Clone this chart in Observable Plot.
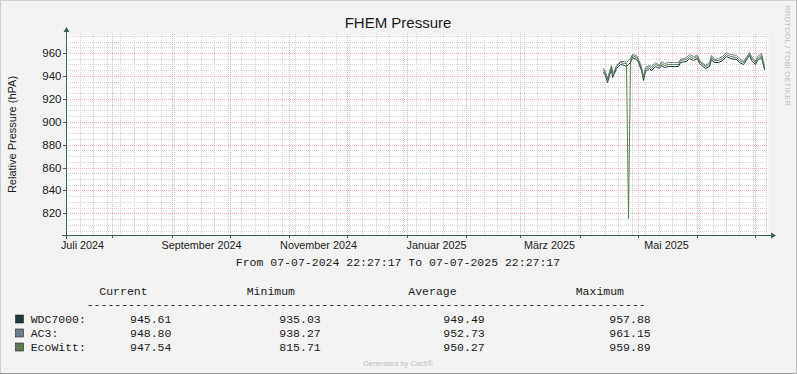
<!DOCTYPE html>
<html><head><meta charset="utf-8">
<script src="https://cdn.jsdelivr.net/npm/d3@7"></script>
<script src="https://cdn.jsdelivr.net/npm/@observablehq/plot@0.6"></script>
<style>
html,body{margin:0;padding:0;background:#F3F3F3;}
#chart{width:797px;height:374px;position:relative;overflow:hidden}
svg{display:block}
</style></head><body><div id="chart"></div>
<script>
// ---- data ----
const dates = ["2025-04-13","2025-04-14","2025-04-15","2025-04-16","2025-04-17","2025-04-18","2025-04-19","2025-04-20","2025-04-22","2025-04-24","2025-04-25","2025-04-26","2025-04-27","2025-04-28","2025-04-30","2025-05-01","2025-05-03","2025-05-04","2025-05-05","2025-05-07","2025-05-08","2025-05-10","2025-05-12","2025-05-13","2025-05-15","2025-05-17","2025-05-20","2025-05-22","2025-05-23","2025-05-26","2025-05-28","2025-05-30","2025-06-01","2025-06-02","2025-06-05","2025-06-07","2025-06-08","2025-06-10","2025-06-12","2025-06-14","2025-06-16","2025-06-18","2025-06-21","2025-06-23","2025-06-25","2025-06-27","2025-06-28","2025-06-29","2025-07-01","2025-07-02","2025-07-04","2025-07-05","2025-07-06"];
const wdc7000 = [943.7,940.8,935.03,940.8,946.6,939.4,942.2,946.6,950.1,949.6,949.0,950.6,952.4,956.2,954.8,951.8,945.2,936.5,944.3,946.6,945.2,948.9,946.6,949.6,947.8,948.9,948.7,948.7,951.8,953.0,955.9,953.9,955.3,951.0,946.6,948.9,954.8,951.8,952.4,953.9,957.5,955.9,954.8,952.4,950.1,955.3,957.88,953.9,950.1,953.9,956.8,949.6,945.61];
const ac3 = [946.9,944.0,938.27,944.1,949.8,942.6,945.4,949.7,953.3,952.8,952.2,953.8,955.6,959.4,958.0,955.0,948.4,939.8,947.5,949.8,948.4,952.1,949.8,952.8,951.0,952.1,951.9,951.9,955.0,956.2,959.1,957.1,958.5,954.2,949.8,952.1,958.0,955.0,955.6,957.1,960.7,959.1,958.0,955.6,953.3,958.5,961.15,957.1,953.3,957.1,960.0,952.8,948.80];
const ecowitt = [945.6,942.7,936.9,942.7,948.5,941.3,944.1,948.5,952.0,951.5,950.9,815.71,954.3,958.1,956.7,953.7,947.1,938.4,946.2,948.5,947.1,950.8,948.5,951.5,949.7,950.8,950.6,950.6,953.7,954.9,957.8,955.8,957.2,952.9,948.5,950.8,956.7,953.7,954.3,955.8,959.4,957.8,956.7,954.3,952.0,957.2,959.89,955.8,952.0,955.8,958.7,951.5,947.54];

const seriesNames = ["WDC7000","AC3","EcoWitt"];
const seriesColors = ["#1E3A3B","#6F7E8D","#5B7F4E"];
const statCurrent = ["945.61","948.80","947.54"];
const statMinimum = ["935.03","938.27","815.71"];
const statAverage = ["949.49","952.73","950.27"];
const statMaximum = ["957.88","961.15","959.89"];

const yTicks = [820,840,860,880,900,920,940,960];
const xTickDates = ["2024-07-16","2024-09-16","2024-11-16","2025-01-16","2025-03-16","2025-05-16"];
const xTickLabels = ["Juli 2024","September 2024","November 2024","Januar 2025","März 2025","Mai 2025"];

const titleText = "FHEM Pressure";
const yLabelText = "Relative Pressure (hPA)";
const rangeText = "From 07-07-2024 22:27:17 To 07-07-2025 22:27:17";
const sideText = "RRDTOOL / TOBI OETIKER";
const footText = "Generated by Cacti®";

// ---- build ----
const W = 797, H = 374, mL = 66, mR = 29, mT = 34, mB = 139;
const xStart = new Date(Date.UTC(2024,6,7,20,27,17));
const xEnd = new Date(Date.UTC(2025,6,7,20,27,17));
const yDomain = [801.1, 976.6];
const axisColor = "#3F5E52";
const minorColor = "#D6D6D6";
const majorColor = "#F0B2B2";

const toRows = (vals, name) => dates.map((d,i)=>({date:new Date(d+"T00:00:00Z"), value:vals[i], name}));
const rows = [toRows(wdc7000,"WDC7000"), toRows(ac3,"AC3"), toRows(ecowitt,"EcoWitt")];

const yMinor = d3.range(805, 976, 5).filter(v => v % 20 !== 0);
const monthLines = d3.utcMonth.range(xStart, xEnd);
const weekLines = d3.utcMonday.range(xStart, xEnd);
const labelDates = xTickDates.map(d => new Date(d+"T00:00:00Z"));
const labelMap = new Map(labelDates.map((d,i)=>[+d, xTickLabels[i]]));

const plot = Plot.plot({
  width: W, height: H,
  marginLeft: mL, marginRight: mR, marginTop: mT, marginBottom: mB,
  x: {type:"utc", domain:[xStart,xEnd], round:true},
  y: {domain: yDomain, round:true},
  style: {fontFamily:"'Liberation Sans', Arial, sans-serif", fontSize:"11px", background:"transparent", color:"#1a1a1a", overflow:"visible"},
  marks: [
    Plot.frame({fill:"#FEFEFE", stroke:null}),
    Plot.ruleY(yMinor, {stroke:minorColor, strokeDasharray:"1,1"}),
    Plot.ruleX(weekLines, {stroke:minorColor, strokeDasharray:"1,1"}),
    Plot.ruleY(yTicks, {stroke:majorColor, strokeDasharray:"1,1"}),
    Plot.ruleX(monthLines, {stroke:majorColor, strokeDasharray:"1,1"}),
    Plot.line(rows[0], {x:"date", y:"value", stroke:seriesColors[0], strokeWidth:1}),
    Plot.line(rows[1], {x:"date", y:"value", stroke:seriesColors[1], strokeWidth:1}),
    Plot.line(rows[2], {x:"date", y:"value", stroke:seriesColors[2], strokeWidth:1}),
    Plot.axisY(yTicks, {tickSize:3, tickPadding:2, stroke:axisColor, fontSize:11.5, label:null, tickFormat:d=>String(d)}),
    Plot.axisX(monthLines, {tickSize:3, stroke:axisColor, tickFormat:()=>"", label:null}),
    Plot.axisX(labelDates, {tickSize:0, tickPadding:6, fontSize:10.8, label:null, tickFormat:d=>labelMap.get(+d)})
  ]
});
document.getElementById("chart").appendChild(plot);

const svg = d3.select(plot);
const xs = plot.scale("x"), ys = plot.scale("y");
const yBottom = Math.round(ys.apply(yDomain[0])), yTop = Math.round(ys.apply(yDomain[1]));
const xLeft = Math.round(xs.apply(xStart)), xRight = Math.round(xs.apply(xEnd));

// axis lines + arrows
svg.append("line").attr("x1", xLeft-4).attr("x2", xRight+3).attr("y1", yBottom+0.5).attr("y2", yBottom+0.5).attr("stroke", axisColor);
svg.append("path").attr("d", `M${xRight+3},${yBottom-2.5}L${xRight+8},${yBottom+0.5}L${xRight+3},${yBottom+3.5}Z`).attr("fill", axisColor);
svg.append("line").attr("x1", xLeft+0.5).attr("x2", xLeft+0.5).attr("y1", yBottom+4).attr("y2", yTop-2).attr("stroke", axisColor);
svg.append("path").attr("d", `M${xLeft-2.5},${yTop-2}L${xLeft+0.5},${yTop-7}L${xLeft+3.5},${yTop-2}Z`).attr("fill", axisColor);

// border
svg.append("line").attr("x1",0).attr("x2",W).attr("y1",0.5).attr("y2",0.5).attr("stroke","#CFCFCF");
svg.append("line").attr("x1",0.5).attr("x2",0.5).attr("y1",0).attr("y2",H).attr("stroke","#CFCFCF");
svg.append("line").attr("x1",0).attr("x2",W).attr("y1",H-0.5).attr("y2",H-0.5).attr("stroke","#9A9A9A");
svg.append("line").attr("x1",W-0.5).attr("x2",W-0.5).attr("y1",0).attr("y2",H).attr("stroke","#BDBDBD");

const sans = "'Liberation Sans', Arial, sans-serif";
const mono = "'Liberation Mono', 'Courier New', monospace";

svg.append("text").attr("x",398).attr("y",27.5).attr("text-anchor","middle")
  .attr("font-family",sans).attr("font-size",15).attr("fill","#1a1a1a").text(titleText);
svg.append("text").attr("transform","translate(15.5,134.5) rotate(-90)").attr("text-anchor","middle")
  .attr("font-family",sans).attr("font-size",11).attr("fill","#1a1a1a").text(yLabelText);
svg.append("text").attr("transform","translate(785,5) rotate(90)").attr("text-anchor","start")
  .attr("font-family",sans).attr("font-size",8).attr("fill","#BDBDBD").text(sideText);
svg.append("text").attr("x",398).attr("y",266).attr("text-anchor","middle")
  .attr("font-family",mono).attr("font-size",11.5).attr("fill","#1a1a1a").text(rangeText);

// legend
const mt = (x,y,t)=>svg.append("text").attr("x",x).attr("y",y).attr("text-anchor","start").attr("font-family",mono).attr("font-size",11.5).attr("fill","#1a1a1a").attr("xml:space","preserve").text(t);
mt(99.3,294.5,"Current");
mt(246.7,294.5,"Minimum");
mt(408.3,294.5,"Average");
mt(575.7,294.5,"Maximum");
mt(86.7,308,"-".repeat(81));
const rowY = [322.5, 336.5, 350.5];
seriesNames.forEach((n,i)=>{
  svg.append("rect").attr("x",15.5).attr("y",rowY[i]-7.5).attr("width",8).attr("height",8)
    .attr("fill",seriesColors[i]).attr("stroke","#222").attr("stroke-width",0.6);
  mt(30.7,rowY[i],n+":");
  mt(130,rowY[i],statCurrent[i]);
  mt(279.3,rowY[i],statMinimum[i]);
  mt(443.3,rowY[i],statAverage[i]);
  mt(609.3,rowY[i],statMaximum[i]);
});
svg.append("text").attr("x",398).attr("y",366).attr("text-anchor","middle")
  .attr("font-family",sans).attr("font-size",7.5).attr("fill","#BDBDBD").text(footText);
</script></body></html>
